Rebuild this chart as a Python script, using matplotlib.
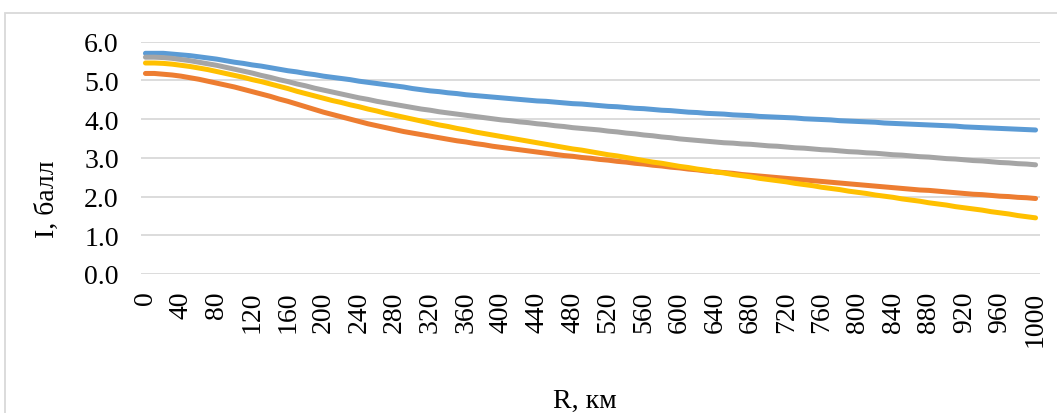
import matplotlib
matplotlib.use("Agg")
import matplotlib.pyplot as plt
from matplotlib.patches import Rectangle

plt.rcParams['font.family'] = ['Liberation Serif', 'DejaVu Serif']

# Distance categories (km), every 10 km
R = list(range(0, 1001, 10))
tick_labels = [str(v) for v in range(0, 1001, 40)]
y_ticks = [0.0, 1.0, 2.0, 3.0, 4.0, 5.0, 6.0]

blue = [5.70, 5.70, 5.70, 5.68, 5.66, 5.64, 5.61, 5.58, 5.55, 5.51,
        5.47, 5.44, 5.40, 5.37, 5.33, 5.29, 5.25, 5.22, 5.18, 5.15,
        5.11, 5.08, 5.05, 5.02, 4.98, 4.95, 4.92, 4.89, 4.86, 4.83,
        4.79, 4.76, 4.73, 4.71, 4.68, 4.66, 4.63, 4.61, 4.59, 4.57,
        4.55, 4.53, 4.51, 4.49, 4.47, 4.46, 4.44, 4.42, 4.40, 4.39,
        4.37, 4.35, 4.33, 4.32, 4.30, 4.28, 4.27, 4.25, 4.23, 4.22,
        4.20, 4.18, 4.17, 4.15, 4.14, 4.13, 4.11, 4.10, 4.09, 4.07,
        4.06, 4.05, 4.04, 4.03, 4.01, 4.00, 3.99, 3.98, 3.96, 3.95,
        3.94, 3.93, 3.92, 3.90, 3.89, 3.88, 3.87, 3.86, 3.85, 3.84,
        3.83, 3.82, 3.80, 3.79, 3.78, 3.77, 3.76, 3.75, 3.74, 3.73,
        3.72]

orange = [5.18, 5.18, 5.16, 5.14, 5.11, 5.07, 5.03, 4.98, 4.93, 4.88,
          4.83, 4.77, 4.71, 4.65, 4.59, 4.52, 4.46, 4.39, 4.32, 4.25,
          4.18, 4.12, 4.06, 4.00, 3.94, 3.88, 3.83, 3.78, 3.73, 3.68,
          3.64, 3.60, 3.56, 3.52, 3.48, 3.44, 3.41, 3.37, 3.34, 3.30,
          3.27, 3.24, 3.21, 3.18, 3.15, 3.12, 3.09, 3.06, 3.04, 3.01,
          2.99, 2.96, 2.94, 2.91, 2.89, 2.86, 2.84, 2.81, 2.79, 2.76,
          2.74, 2.71, 2.69, 2.66, 2.64, 2.62, 2.60, 2.57, 2.55, 2.53,
          2.51, 2.49, 2.47, 2.45, 2.43, 2.41, 2.39, 2.37, 2.35, 2.33,
          2.31, 2.29, 2.27, 2.25, 2.23, 2.21, 2.19, 2.17, 2.16, 2.14,
          2.12, 2.10, 2.08, 2.06, 2.05, 2.03, 2.01, 2.00, 1.98, 1.97,
          1.95]

gray = [5.60, 5.60, 5.59, 5.57, 5.54, 5.51, 5.47, 5.43, 5.39, 5.34,
        5.29, 5.24, 5.19, 5.13, 5.08, 5.02, 4.97, 4.91, 4.86, 4.80,
        4.75, 4.70, 4.65, 4.60, 4.55, 4.51, 4.46, 4.42, 4.38, 4.34,
        4.30, 4.26, 4.23, 4.19, 4.16, 4.13, 4.10, 4.07, 4.04, 4.01,
        3.98, 3.96, 3.93, 3.91, 3.88, 3.86, 3.83, 3.81, 3.78, 3.76,
        3.74, 3.72, 3.69, 3.67, 3.64, 3.62, 3.59, 3.57, 3.54, 3.52,
        3.49, 3.47, 3.45, 3.43, 3.41, 3.39, 3.38, 3.36, 3.35, 3.33,
        3.31, 3.30, 3.28, 3.26, 3.25, 3.23, 3.21, 3.20, 3.18, 3.16,
        3.15, 3.13, 3.12, 3.10, 3.08, 3.07, 3.05, 3.03, 3.02, 3.00,
        2.98, 2.97, 2.95, 2.93, 2.92, 2.90, 2.88, 2.87, 2.85, 2.84,
        2.82]

yellow = [5.45, 5.45, 5.44, 5.42, 5.39, 5.36, 5.32, 5.28, 5.23, 5.18,
          5.13, 5.08, 5.02, 4.97, 4.91, 4.85, 4.79, 4.72, 4.66, 4.60,
          4.54, 4.48, 4.43, 4.37, 4.32, 4.26, 4.21, 4.15, 4.10, 4.05,
          4.00, 3.95, 3.90, 3.85, 3.81, 3.76, 3.72, 3.67, 3.63, 3.59,
          3.55, 3.51, 3.47, 3.43, 3.39, 3.35, 3.31, 3.27, 3.23, 3.20,
          3.16, 3.12, 3.08, 3.05, 3.01, 2.97, 2.93, 2.89, 2.86, 2.82,
          2.78, 2.75, 2.71, 2.68, 2.64, 2.61, 2.57, 2.54, 2.51, 2.47,
          2.44, 2.41, 2.38, 2.34, 2.31, 2.28, 2.24, 2.21, 2.18, 2.14,
          2.11, 2.08, 2.04, 2.01, 1.98, 1.94, 1.91, 1.88, 1.84, 1.81,
          1.78, 1.74, 1.71, 1.68, 1.65, 1.61, 1.58, 1.55, 1.51, 1.48,
          1.45]

series = [(blue, '#5B9BD5'), (orange, '#ED7D31'), (gray, '#A5A5A5'), (yellow, '#FFC000')]

W, H = 1057, 414
fig = plt.figure(figsize=(W / 100, H / 100), dpi=100)

# outer chart frame (cropped at right and bottom)
fig.patches.append(Rectangle((4.5 / W, -0.1), 2.0, 1 - 13.5 / H + 0.1,
                             transform=fig.transFigure, fill=False,
                             edgecolor='#D9D9D9', linewidth=1.3))

left, right, top, bottom = 141, 1040, 42.7, 275
ax = fig.add_axes([left / W, 1 - bottom / H, (right - left) / W, (bottom - top) / H])

for vals, col in series:
    ax.plot(R, vals, color=col, linewidth=3.6, solid_capstyle='round',
            solid_joinstyle='round')

ax.set_xlim(-5, 1005)
ax.set_ylim(0, 6.0)
ax.set_yticks(y_ticks)
ax.set_yticklabels([f"{v:.1f}" for v in y_ticks], fontsize=20)
ax.set_xticks(list(range(0, 1001, 40)))
ax.set_xticklabels(tick_labels, rotation=90, fontsize=20, va='top')
ax.tick_params(axis='both', length=0)
ax.tick_params(axis='y', pad=16)
ax.tick_params(axis='x', pad=12)
ax.grid(axis='y', color='#D9D9D9', linewidth=1.3)
ax.set_axisbelow(True)
for s in ax.spines.values():
    s.set_visible(False)

fig.text(47 / W, 1 - 199 / H, 'I, балл', rotation=90, fontsize=20,
         ha='center', va='center')
fig.text(585 / W, 1 - 401 / H, 'R, км', fontsize=20, ha='center', va='center')

fig.savefig('out.png', dpi=100)
